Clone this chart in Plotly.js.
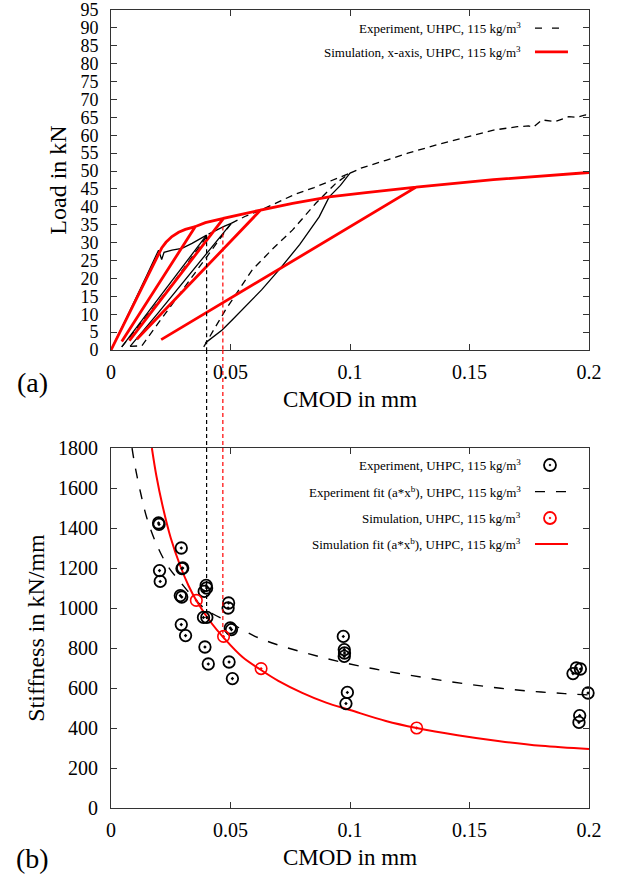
<!DOCTYPE html>
<html>
<head>
<meta charset="utf-8">
<script src="https://cdn.plot.ly/plotly-3.0.1.min.js"></script>
<style>html,body{margin:0;padding:0;background:#fff;}#chart{width:617px;height:876px;}</style>
</head>
<body>
<div id="chart"></div>
<script>
// ---------- (a) Load vs CMOD ----------
// Experiment: unloading branches and initial envelope (solid looking)
var expSolidX = [0, 0.005, 0.010, 0.015, 0.0199, 0.0212, 0.0222, 0.0255, 0.0297, 0.0339, 0.0370, 0.0400, null,
                 0.0400, 0.030, 0.020, 0.012, 0.0045, null,
                 0.0408, 0.0440, 0.0475, 0.0503, null,
                 0.0503, 0.040, 0.030, 0.020, 0.008, null,
                 0.1000, 0.0960, 0.0913, 0.0871, 0.0790, 0.0703, 0.0630, 0.0563, 0.0510, 0.0465, 0.0425, 0.0395];
var expSolidY = [0, 6.8, 13.9, 20.9, 27.9, 25.3, 27.3, 27.9, 28.4, 29.8, 31.0, 32.1, null,
                 32.1, 23.3, 14.5, 7.5, 0.9, null,
                 32.4, 33.5, 34.6, 35.4, null,
                 35.4, 27.0, 18.6, 10.6, 1.0, null,
                 49.4, 46.0, 42.8, 37.2, 29.5, 22.4, 16.8, 12.1, 8.6, 5.6, 3.5, 2.0];
// Experiment: reloading branches and envelope (dashed)
var expDashX = [0.0045, 0.015, 0.025, 0.035, 0.0408, null,
                0.0080, 0.0129, 0.020, 0.030, 0.040, 0.0503, null,
                0.0503, 0.0560, 0.0633, 0.0700, 0.0773, 0.0850, 0.0913, 0.1000, null,
                0.0388, 0.0430, 0.0479, 0.0591, 0.0680, 0.0759, 0.0857, 0.0941, 0.1000, null,
                0.1000, 0.1046, 0.1150, 0.1242, 0.1382, 0.1494, 0.1606, 0.1700, 0.1747, 0.1767, 0.1803, 0.1858, 0.1915, 0.1950, 0.1985, 0.2000];
var expDashY = [0.9, 9.6, 17.8, 27.0, 32.4, null,
                1.0, 1.2, 7.7, 16.8, 26.0, 35.4, null,
                35.4, 37.3, 39.3, 41.4, 43.6, 45.4, 47.0, 49.4, null,
                0.9, 5.5, 11.2, 22.4, 28.5, 33.5, 41.0, 46.6, 49.4, null,
                49.4, 50.8, 53.0, 55.0, 57.7, 59.6, 61.5, 62.4, 62.6, 62.3, 64.3, 63.8, 65.2, 65.0, 65.7, 65.2];
// Simulation path (loading, unloading, reloading)
var simX = [0, 0.0100, 0.0195, 0.0212, 0.0230, 0.0255, 0.0283, 0.0311, 0.0353, 0.0045, 0.0353,
            0.0395, 0.0437, 0.0471, 0.0077, 0.0471, 0.0550, 0.0626, 0.0108, 0.0626,
            0.0760, 0.0913, 0.1067, 0.1277, 0.0210, 0.1277, 0.1600, 0.2000];
var simY = [0, 13.5, 26.4, 28.5, 30.1, 31.7, 32.9, 33.7, 34.5, 2.4, 34.5,
            35.6, 36.3, 36.8, 2.6, 36.8, 38.0, 39.1, 3.0, 39.1,
            41.0, 42.8, 44.0, 45.5, 2.9, 45.5, 47.6, 49.6];

// ---------- (b) Stiffness vs CMOD ----------
var expStiffX = [0.0199, 0.0201, 0.0294, 0.0203, 0.0206, 0.0297, 0.0300, 0.0290, 0.0296, 0.0294, 0.0312,
                 0.0398, 0.0390, 0.0400, 0.0387, 0.0401, 0.0393, 0.0407,
                 0.0492, 0.0490, 0.0499, 0.0504, 0.0494, 0.0508,
                 0.0972, 0.0976, 0.0977, 0.0976, 0.0989, 0.0983,
                 0.1947, 0.1964, 0.1933, 0.1996, 0.1961, 0.1958];
var expStiffY = [1425, 1418, 1300, 1187, 1133, 1197, 1200, 1062, 1055, 917, 862,
                 1113, 1083, 1100, 953, 953, 805, 720,
                 1025, 1000, 900, 892, 730, 647,
                 858, 792, 775, 758, 578, 522,
                 700, 695, 672, 575, 462, 428];
var simStiffX = [0.0357, 0.0471, 0.0628, 0.1279];
var simStiffY = [1038, 858, 697, 400];
var expFitX = [0.0088, 0.0102, 0.0125, 0.015, 0.019, 0.024, 0.029, 0.035, 0.040, 0.050, 0.060, 0.070, 0.080, 0.090, 0.100,
               0.110, 0.120, 0.130, 0.140, 0.150, 0.160, 0.170, 0.180, 0.190, 0.200];
var expFitY = [1800, 1700, 1570, 1450, 1320, 1205, 1130, 1045, 990, 925, 860, 815, 780, 748, 720,
               696, 674, 654, 635, 618, 603, 590, 580, 572, 565];
var simFitX = [0.0171, 0.019, 0.0215, 0.025, 0.029, 0.0325, 0.0357, 0.042, 0.0471, 0.055, 0.0628, 0.070, 0.080, 0.090, 0.100,
               0.115, 0.1279, 0.145, 0.1627, 0.180, 0.200];
var simFitY = [1800, 1660, 1515, 1350, 1210, 1110, 1038, 925, 852, 755, 690, 636, 576, 527, 490,
               435, 400, 364, 334, 311, 295];

// Dashed guide lines linking the two panels
var guideX = [0.0400, 0.0468];
var guideLoad = [32.1, 34.5];
var guideStiff = [945, 872];
var guideColor = ['#000000', '#ff0000'];

var serif = 'Liberation Serif, Times New Roman, serif';
var RED = '#ff0000';

var traces = [
  {x: expSolidX, y: expSolidY, xaxis: 'x', yaxis: 'y', mode: 'lines', showlegend: false,
   line: {color: '#000', width: 1.3}},
  {x: expDashX, y: expDashY, xaxis: 'x', yaxis: 'y', mode: 'lines', showlegend: false,
   line: {color: '#000', width: 1.3, dash: '7px,5px'}},
  {x: simX, y: simY, xaxis: 'x', yaxis: 'y', mode: 'lines', showlegend: false,
   line: {color: RED, width: 2.8}},
  {x: expFitX, y: expFitY, xaxis: 'x2', yaxis: 'y2', mode: 'lines', showlegend: false,
   line: {color: '#000', width: 1.4, dash: '10px,11px', shape: 'spline'}},
  {x: simFitX, y: simFitY, xaxis: 'x2', yaxis: 'y2', mode: 'lines', showlegend: false,
   line: {color: RED, width: 2, shape: 'spline'}},
  {x: expStiffX, y: expStiffY, xaxis: 'x2', yaxis: 'y2', mode: 'markers', showlegend: false, cliponaxis: false,
   marker: {symbol: 'circle-open-dot', size: 11.5, color: '#000', line: {width: 1.8, color: '#000'}}},
  {x: simStiffX, y: simStiffY, xaxis: 'x2', yaxis: 'y2', mode: 'markers', showlegend: false, cliponaxis: false,
   marker: {symbol: 'circle-open-dot', size: 11.5, color: RED, line: {width: 1.6, color: RED}}}
];

var topDomain = [0.5739, 1];
var botDomain = [0, 0.4511];

function xAxis(anchor) {
  return {
    anchor: anchor, domain: [0, 1], range: [0, 0.2], dtick: 0.05, tick0: 0,
    showline: true, linecolor: '#333', linewidth: 1, mirror: 'ticks',
    ticks: 'inside', ticklen: 6, tickcolor: '#333', showgrid: false, zeroline: false,
    tickfont: {family: serif, size: 20, color: '#000'}, ticklabelstandoff: 4,
    ticklabeloverflow: 'allow',
    title: {text: 'CMOD in mm', font: {family: serif, size: 23, color: '#000'}, standoff: 8}
  };
}
function yAxis(anchor, domain, range, dtick, title, fs) {
  return {
    anchor: anchor, domain: domain, range: range, dtick: dtick, tick0: 0,
    showline: true, linecolor: '#333', linewidth: 1, mirror: 'ticks',
    ticks: 'inside', ticklen: 6, tickcolor: '#333', showgrid: false, zeroline: false,
    tickfont: {family: serif, size: fs, color: '#000'}, ticklabelstandoff: 8,
    ticklabeloverflow: 'allow',
    title: {text: title, font: {family: serif, size: 24, color: '#000'}, standoff: 6}
  };
}

var shapes = [];
for (var i = 0; i < guideX.length; i++) {
  var ln = {color: guideColor[i], width: 1.2, dash: '4px,3px'};
  shapes.push({type: 'line', xref: 'x', yref: 'y', x0: guideX[i], x1: guideX[i], y0: guideLoad[i], y1: 0, line: ln});
  shapes.push({type: 'line', xref: 'x', yref: 'paper', x0: guideX[i], x1: guideX[i], y0: topDomain[0], y1: botDomain[1], line: ln});
  shapes.push({type: 'line', xref: 'x2', yref: 'y2', x0: guideX[i], x1: guideX[i], y0: 1800, y1: guideStiff[i], line: ln});
}

// custom legends (text on the left, sample on the right)
var legTextX = 0.862;
var topRows = [0.9774, 0.9474];
var botRows = [0.4298, 0.3964, 0.3634, 0.3308];
function sampleLine(y, color, width, dash) {
  return {type: 'line', xref: 'paper', yref: 'paper', x0: 0.887, x1: 0.956, y0: y, y1: y,
          line: {color: color, width: width, dash: dash || 'solid'}};
}
function sampleCircle(y, color) {
  return [
    {type: 'circle', xref: 'paper', yref: 'paper', xsizemode: 'pixel', ysizemode: 'pixel',
     xanchor: 0.9184, yanchor: y, x0: -6, x1: 6, y0: -6, y1: 6, line: {color: color, width: 1.8}},
    {type: 'circle', xref: 'paper', yref: 'paper', xsizemode: 'pixel', ysizemode: 'pixel',
     xanchor: 0.9184, yanchor: y, x0: -0.9, x1: 0.9, y0: -0.9, y1: 0.9, fillcolor: color, line: {color: color, width: 0.5}}
  ];
}
shapes.push(sampleLine(topRows[0], '#000', 1.3, '7px,10px'));
shapes.push(sampleLine(topRows[1], RED, 2.8));
shapes = shapes.concat(sampleCircle(botRows[0], '#000'));
shapes.push(sampleLine(botRows[1], '#000', 1.4, '10px,11px'));
shapes = shapes.concat(sampleCircle(botRows[2], RED));
shapes.push(sampleLine(botRows[3], RED, 2));

var legFont = {family: serif, size: 13, color: '#000'};
function legText(y, txt) {
  return {xref: 'paper', yref: 'paper', x: legTextX, y: y, xanchor: 'right', yanchor: 'middle',
          text: txt, showarrow: false, font: legFont};
}
var annotations = [
  legText(topRows[0], 'Experiment, UHPC, 115 kg/m<sup>3</sup>'),
  legText(topRows[1], 'Simulation, x-axis, UHPC, 115 kg/m<sup>3</sup>'),
  legText(botRows[0], 'Experiment, UHPC, 115 kg/m<sup>3</sup>'),
  legText(botRows[1], 'Experiment fit (a*x<sup>b</sup>), UHPC, 115 kg/m<sup>3</sup>'),
  legText(botRows[2], 'Simulation, UHPC, 115 kg/m<sup>3</sup>'),
  legText(botRows[3], 'Simulation fit (a*x<sup>b</sup>), UHPC, 115 kg/m<sup>3</sup>'),
  {xref: 'paper', yref: 'paper', x: -0.165, y: 0.5338, xanchor: 'center', yanchor: 'middle',
   text: '(a)', showarrow: false, font: {family: serif, size: 28, color: '#000'}},
  {xref: 'paper', yref: 'paper', x: -0.165, y: -0.0627, xanchor: 'center', yanchor: 'middle',
   text: '(b)', showarrow: false, font: {family: serif, size: 28, color: '#000'}}
];

var layout = {
  width: 617, height: 876,
  margin: {l: 111, r: 28, t: 10, b: 68},
  paper_bgcolor: '#fff', plot_bgcolor: '#fff',
  showlegend: false,
  font: {family: serif, color: '#000'},
  xaxis: xAxis('y'),
  yaxis: yAxis('x', topDomain, [0, 95], 5, 'Load in kN', 18),
  xaxis2: xAxis('y2'),
  yaxis2: yAxis('x2', botDomain, [0, 1800], 200, 'Stiffness in kN/mm', 20),
  shapes: shapes,
  annotations: annotations
};

Plotly.newPlot('chart', traces, layout, {staticPlot: true, displayModeBar: false});
</script>
</body>
</html>
